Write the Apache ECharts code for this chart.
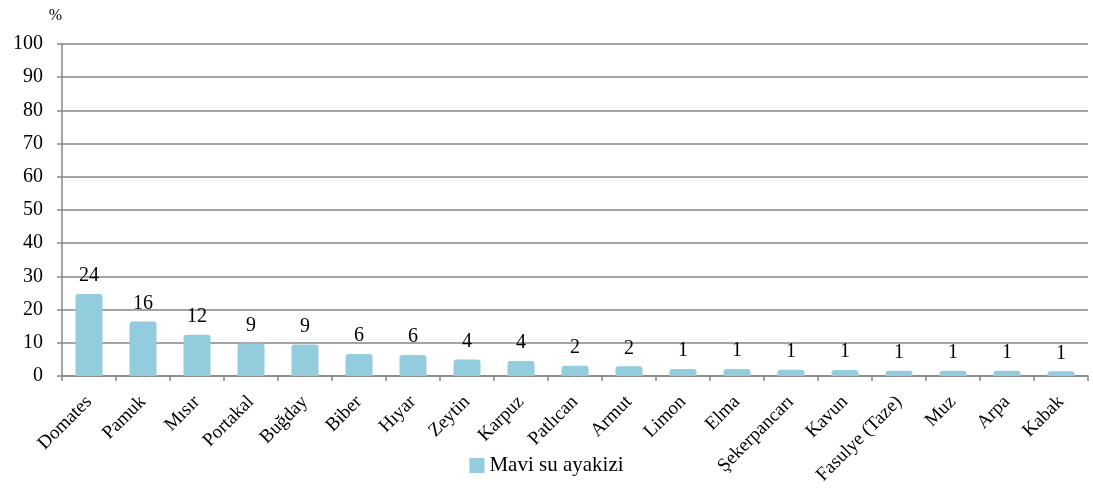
<!DOCTYPE html>
<html><head><meta charset="utf-8">
<script src="https://cdn.jsdelivr.net/npm/echarts@6/dist/echarts.min.js"></script>
<style>html,body{margin:0;padding:0;background:#fff}#c{width:1093px;height:493px}</style>
</head><body><div id="c"></div>
<script>
const categories = ['Domates','Pamuk','Mısır','Portakal','Buğday','Biber','Hıyar','Zeytin','Karpuz','Patlıcan','Armut','Limon','Elma','Şekerpancarı','Kavun','Fasulye (Taze)','Muz','Arpa','Kabak'];
const values = [24.7,16.4,12.4,9.8,9.5,6.6,6.3,5.0,4.5,3.1,2.9,2.1,2.1,1.9,1.8,1.6,1.6,1.6,1.4];
const labels = [24,16,12,9,9,6,6,4,4,2,2,1,1,1,1,1,1,1,1];
const yTicks = [0,10,20,30,40,50,60,70,80,90,100];
const seriesName = 'Mavi su ayakizi';
const font = 'Liberation Serif';
const chart = echarts.init(document.getElementById('c'));
chart.setOption({
  animation:false,
  textStyle:{fontFamily:font},
  grid:{left:62,right:5,top:44,bottom:117},
  legend:{data:[seriesName],bottom:12,left:'center',itemWidth:15,itemHeight:15,itemGap:2,
    textStyle:{fontFamily:font,fontSize:21,color:'#000'},icon:'rect'},
  xAxis:{type:'category',data:categories,
    axisLine:{lineStyle:{color:'#868686',width:1.5}},
    axisTick:{show:true,length:5,lineStyle:{color:'#868686',width:1.5}},
    axisLabel:{rotate:45,interval:0,fontFamily:font,fontSize:19,color:'#000',margin:23}},
  yAxis:{type:'value',min:yTicks[0],max:yTicks[yTicks.length-1],interval:10,
    name:'%',nameLocation:'end',nameGap:20,nameTextStyle:{fontFamily:font,fontSize:16,color:'#000',align:'right',padding:[0,0,0,0]},
    axisLine:{show:true,lineStyle:{color:'#868686',width:1.5}},
    axisTick:{show:true,length:5,lineStyle:{color:'#868686',width:1.5}},
    splitLine:{lineStyle:{color:'#868686',width:1.5}},
    axisLabel:{fontFamily:font,fontSize:20,color:'#000',margin:19}},
  series:[{name:seriesName,type:'bar',barWidth:'50%',
    data:values.map((v,i)=>({value:v,label:{formatter:String(labels[i])}})),
    itemStyle:{color:'#93CDDD',borderRadius:[3,3,0,0]},
    label:{show:true,position:'top',distance:8,fontFamily:font,fontSize:20,color:'#000'}}]
});
</script></body></html>
